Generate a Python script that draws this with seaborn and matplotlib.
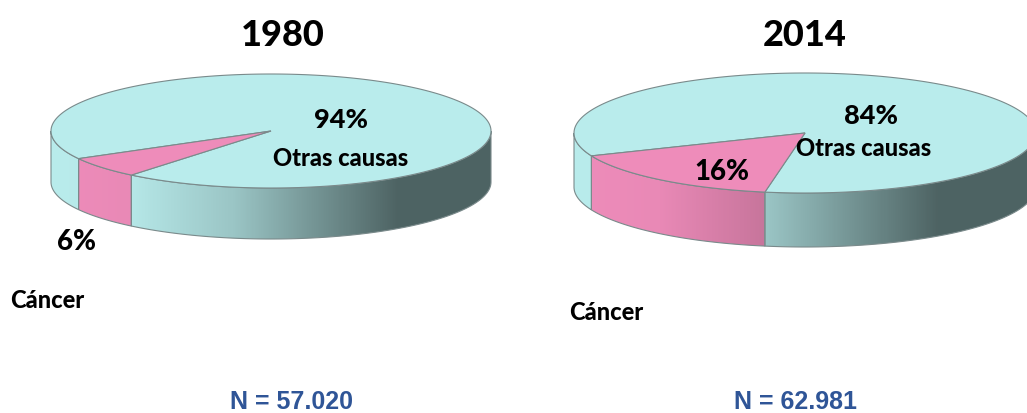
import numpy as np
import matplotlib
matplotlib.use("Agg")
import matplotlib.pyplot as plt
from matplotlib.colors import ListedColormap, to_rgb
from matplotlib.patches import Polygon
import seaborn as sns

# Share of deaths per year
years = ["1980", "2014"]
cancer_share = [6, 16]
other_share = [94, 84]
cancer_label = "Cáncer"
other_label = "Otras causas"
sample_sizes = ["N = 57.020", "N = 62.981"]

TEAL = "#B9ECEC"
PINK = "#EE8CBA"
EDGE = "#7A8A8B"
NAVY = "#2F5597"

sns.set_theme(style="white")
plt.rcParams["font.family"] = ["Lato", "DejaVu Sans"]

fig = plt.figure(figsize=(10.27, 4.13), dpi=100)
ax = fig.add_axes([0, 0, 1, 1])

# Side shading runs from lit on the left to dark on the right
SHADE_STOPS = [(0.0, 1.0), (0.18, 0.98), (0.41, 0.84), (0.79, 0.42), (1.0, 0.42)]


def shaded_cmap(base):
    rgb = np.array(to_rgb(base))
    xs = [s[0] for s in SHADE_STOPS]
    ys = [s[1] for s in SHADE_STOPS]
    steps = []
    for i in range(len(xs) - 1):
        n = max(2, int((xs[i + 1] - xs[i]) * 256))
        steps.append(sns.blend_palette([tuple(rgb * ys[i]), tuple(rgb * ys[i + 1])], n_colors=n))
    return ListedColormap([c for part in steps for c in part])


def rim(cx, cy, a, b, t0, t1, dy=0.0, n=120):
    t = np.radians(np.linspace(t0, t1, n))
    return np.column_stack([cx + a * np.cos(t), cy + b * np.sin(t) + dy])


def draw_pie(cx, cy, a, b, depth, start, cancer, other):
    """Tilted pie: angles grow clockwise on screen, 90 deg pointing at the viewer."""
    total = cancer + other
    end = start + 360 * cancer / total
    grad = np.linspace(0, 1, 512)[None, :]
    extent = (cx - a, cx + a, cy + b + depth + 2, cy - 2)

    # Side wall: front half only, split where the slices meet
    side_parts = [(0, start, TEAL), (start, end, PINK), (end, 180, TEAL)]
    for t0, t1, colour in side_parts:
        outline = np.vstack([rim(cx, cy, a, b, t0, t1), rim(cx, cy, a, b, t1, t0, dy=depth)])
        img = ax.imshow(grad, extent=extent, aspect="auto", cmap=shaded_cmap(colour),
                        vmin=0, vmax=1, zorder=2, interpolation="bilinear")
        patch = Polygon(outline, closed=True, facecolor="none", edgecolor=EDGE, lw=0.8, zorder=3)
        ax.add_patch(patch)
        img.set_clip_path(patch)

    # Top face
    centre = np.array([[cx, cy]])
    top_other = np.vstack([centre, rim(cx, cy, a, b, end, start + 360, n=300)])
    top_cancer = np.vstack([centre, rim(cx, cy, a, b, start, end)])
    ax.add_patch(Polygon(top_other, closed=True, facecolor=TEAL, edgecolor=EDGE, lw=0.8, zorder=4))
    ax.add_patch(Polygon(top_cancer, closed=True, facecolor=PINK, edgecolor=EDGE, lw=0.8, zorder=5))


draw_pie(271, 131, 220, 57, 51, 129.4, cancer_share[0], other_share[0])
draw_pie(805, 133, 231, 60, 54, 100, cancer_share[1], other_share[1])

ax.set_xlim(0, 1027)
ax.set_ylim(413, 0)
ax.axis("off")

bold = dict(fontweight=900, color="black", ha="center", va="center", zorder=10)

ax.text(283, 36, years[0], fontsize=26, **bold)
ax.text(805, 36, years[1], fontsize=26, **bold)

ax.text(341, 120, f"{other_share[0]}%", fontsize=19.5, **bold)
ax.text(341, 158, other_label, fontsize=17, **bold)
ax.text(77, 242, f"{cancer_share[0]}%", fontsize=20, **bold)
ax.text(47, 301, cancer_label, fontsize=17, **bold)

ax.text(871, 116, f"{other_share[1]}%", fontsize=19.5, **bold)
ax.text(864, 149, other_label, fontsize=17, **bold)
ax.text(722, 172, f"{cancer_share[1]}%", fontsize=20, **bold)
ax.text(606, 312, cancer_label, fontsize=17, **bold)

for x, label in zip([291, 795], sample_sizes):
    ax.text(x, 402, label, fontsize=18, fontweight="bold", color=NAVY, ha="center", va="center",
            family="Liberation Sans", zorder=10)

fig.savefig("out.png", dpi=100)
